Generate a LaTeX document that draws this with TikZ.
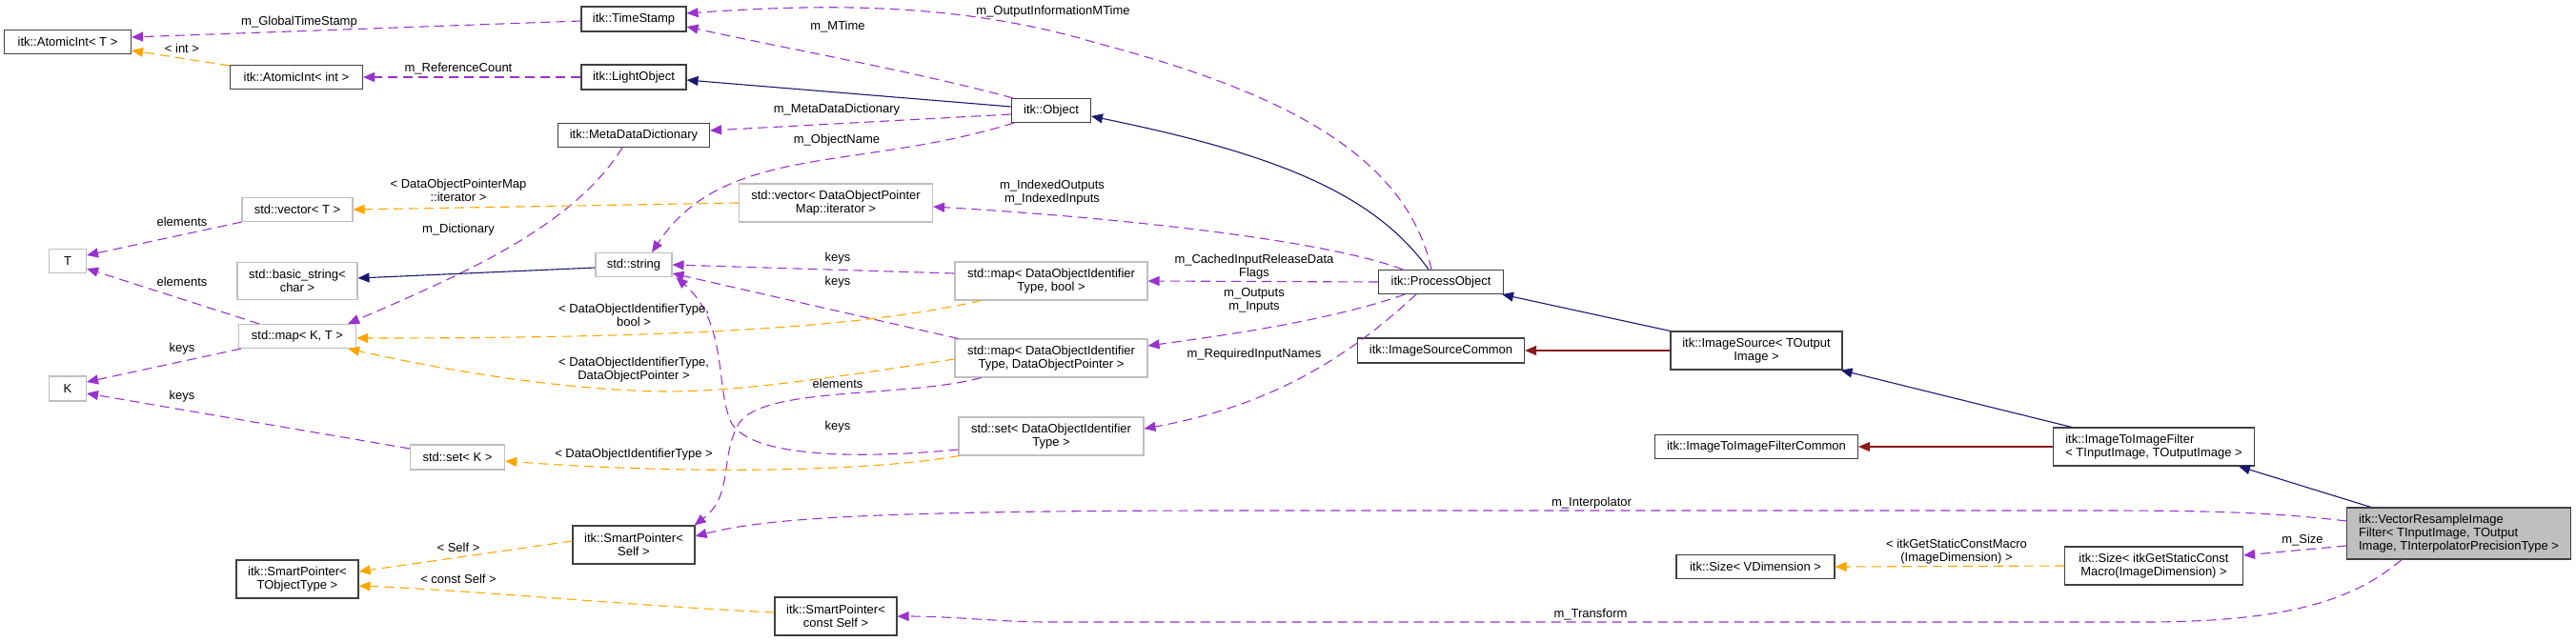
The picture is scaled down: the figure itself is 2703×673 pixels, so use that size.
\documentclass[tikz,border=0pt]{standalone}
\usepackage{fontspec}
\setmainfont{Liberation Sans}
\usetikzlibrary{arrows.meta,calc}
\definecolor{epurple}{HTML}{9A32CD}
\definecolor{eorange}{HTML}{FFA500}
\definecolor{enavy}{HTML}{191970}
\definecolor{ered}{HTML}{8B1A1A}
\definecolor{bgray}{HTML}{BFBFBF}
\definecolor{bdark}{HTML}{404040}
\begin{document}
\begin{tikzpicture}[x=1pt,y=-1pt,
  every node/.style={font=\fontsize{13}{14}\selectfont, inner sep=0pt},
  box/.style 2 args={draw=bdark, line width=1.1pt, rectangle, align=center, minimum width=#1pt, minimum height=#2pt},
  gbox/.style 2 args={draw=bgray, line width=1.1pt, rectangle, align=center, minimum width=#1pt, minimum height=#2pt},
  lbl/.style={align=center},
  tipA/.style={-{Triangle[length=12pt,width=10pt]}},
  usage/.style={tipA, draw=epurple, line width=1.1pt, dash pattern=on 10pt off 6pt},
  tmpl/.style={tipA, draw=eorange, line width=1.1pt, dash pattern=on 10pt off 6pt},
  inh/.style={tipA, draw=enavy, line width=1.1pt},
  priv/.style={tipA, draw=ered, line width=1.1pt}
]
\useasboundingbox (0,0) rectangle (2703,673);
% nodes
\node[box={133}{25}] (ATT) at (71,44) {itk::AtomicInt< T >};
\node[box={139}{25}] (ATI) at (311,81) {itk::AtomicInt< int >};
\node[box={110}{26}] (TS) at (665,20) {itk::TimeStamp};
\node[box={110}{26}] (LO) at (665,81) {itk::LightObject};
\node[box={159}{25}] (MDD) at (665,142) {itk::MetaDataDictionary};
\node[box={83}{25}] (OBJ) at (1103,116) {itk::Object};
\node[gbox={203}{40}] (VDOPM) at (877,213) {std::vector< DataObjectPointer\\Map::iterator >};
\node[gbox={80}{25}] (STR) at (665,278) {std::string};
\node[gbox={202}{40}] (MDB) at (1103,295) {std::map< DataObjectIdentifier\\Type, bool >};
\node[box={131}{25}] (PO) at (1512,296) {itk::ProcessObject};
\node[gbox={116}{25}] (VT) at (312,220) {std::vector< T >};
\node[gbox={39}{25}] (nT) at (71,274) {T};
\node[gbox={126}{39}] (BS) at (312,295) {std::basic\_string<\\char >};
\node[gbox={123}{25}] (MKT) at (312,353) {std::map< K, T >};
\node[gbox={39}{26}] (nK) at (71,408) {K};
\node[gbox={99}{26}] (SK) at (480,480) {std::set< K >};
\node[box={128}{40}] (SPT) at (312,608) {itk::SmartPointer<\\TObjectType >};
\node[gbox={202}{40}] (MDP) at (1103,376) {std::map< DataObjectIdentifier\\Type, DataObjectPointer >};
\node[gbox={194}{40}] (SDI) at (1103,458) {std::set< DataObjectIdentifier\\Type >};
\node[box={128}{40}] (SPS) at (665,572) {itk::SmartPointer<\\Self >};
\node[box={128}{40}] (SPC) at (877,647) {itk::SmartPointer<\\const Self >};
\node[box={175}{26}] (ISC) at (1512,368) {itk::ImageSourceCommon};
\node[box={180}{40}] (IS) at (1843,368) {itk::ImageSource< TOutput\\Image >};
\node[box={213}{25}] (ITIFC) at (1843,469) {itk::ImageToImageFilterCommon};
\node[box={211}{40}, align=left] (ITIF) at (2260,469) {itk::ImageToImageFilter\\< TInputImage, TOutputImage >};
\node[box={235}{54}, align=left, fill=bgray] (VR) at (2580,560) {itk::VectorResampleImage\\Filter< TInputImage, TOutput\\Image, TInterpolatorPrecisionType >};
\node[box={187}{40}] (SZ) at (2260,594) {itk::Size< itkGetStaticConst\\Macro(ImageDimension) >};
\node[box={166}{25}] (SZV) at (1842,595) {itk::Size< VDimension >};
% edges
\draw[usage] ($(TS.west)+(0,2)$) -- ($(ATT.east)+(0,-5)$);
\draw[tmpl] ($(ATI.north west)+(0,1)$) -- ($(ATT.east)+(0,9)$);
\draw[usage] (LO.west) -- (ATI.east);
\draw[usage] ($(OBJ.north west)+(2,0)$) .. controls (960,75) and (820,50) .. ($(TS.east)+(0,8)$);
\draw[usage] ($(PO.north)+(-10,0)$) .. controls (1475,160) and (1340,95) .. (1150,45) .. controls (1000,0) and (850,5) .. ($(TS.east)+(0,-6)$);
\draw[inh] ($(OBJ.west)+(0,-4)$) -- ($(LO.east)+(0,3)$);
\draw[usage] ($(OBJ.west)+(0,4)$) -- ($(MDD.east)+(0,-5)$);
\draw[usage] ($(OBJ.south west)+(3,0)$) .. controls (900,180) and (760,150) .. ($(STR.north)+(19,0)$);
\draw[inh] ($(PO.north)+(-13,0)$) .. controls (1440,200) and (1330,160) .. ($(OBJ.east)+(0,6)$);
\draw[usage] ($(MDD.south)+(-12,0)$) .. controls (600,240) and (480,290) .. ($(MKT.north east)+(-9,0)$);
\draw[tmpl] (VDOPM.west) -- (VT.east);
\draw[usage] (VT.south west) -- ($(nT.east)+(0,-6)$);
\draw[usage] ($(MKT.north west)+(22,0)$) -- ($(nT.east)+(0,8)$);
\draw[inh] ($(STR.west)+(0,3)$) -- ($(BS.east)+(0,-3)$);
\draw[usage] ($(PO.north west)+(26,0)$) .. controls (1400,255) and (1200,230) .. ($(VDOPM.east)+(0,4)$);
\draw[usage] ($(MDB.west)+(0,-8)$) -- (STR.east);
\draw[usage] ($(MDP.north west)+(4,0)$) -- ($(STR.east)+(0,9)$);
\draw[usage] ($(SDI.west)+(0,14)$) .. controls (900,482) and (790,480) .. (768,445) .. controls (750,410) and (765,340) .. ($(STR.south east)+(4,0)$);
\draw[usage] ($(MDP.south west)+(28,0)$) .. controls (950,418) and (800,405) .. (775,445) .. controls (755,480) and (770,520) .. ($(SPS.north east)+(-1,0)$);
\draw[usage] (PO.west) -- (MDB.east);
\draw[usage] ($(PO.south west)+(28,0)$) .. controls (1400,335) and (1300,350) .. ($(MDP.east)+(0,-13)$);
\draw[usage] ($(PO.south west)+(40,0)$) .. controls (1420,370) and (1340,425) .. ($(SDI.east)+(0,-8)$);
\draw[tmpl] ($(MDB.south west)+(28,0)$) .. controls (900,345) and (700,355) .. ($(MKT.east)+(0,2)$);
\draw[tmpl] ($(MDP.west)+(0,1)$) .. controls (850,400) and (750,415) .. (665,410) .. controls (560,405) and (450,385) .. ($(MKT.south east)+(-9,0)$);
\draw[tmpl] ($(SDI.south west)+(1,0)$) .. controls (900,497) and (700,497) .. ($(SK.east)+(0,4)$);
\draw[usage] ($(SK.west)+(0,-9)$) -- ($(nK.east)+(0,5)$);
\draw[usage] ($(MKT.south west)+(3,0)$) -- ($(nK.east)+(0,-7)$);
\draw[tmpl] ($(SPS.west)+(0,-4)$) -- ($(SPT.east)+(0,-8)$);
\draw[tmpl] ($(SPC.west)+(0,-4)$) .. controls (650,635) and (500,620) .. ($(SPT.east)+(0,7)$);
\draw[usage] ($(VR.west)+(0,-13)$) .. controls (2380,537) and (2300,536) .. (2200,536) -- (1300,536) .. controls (900,536) and (800,545) .. ($(SPS.east)+(0,-9)$);
\draw[usage] ($(VR.south)+(-60,0)$) .. controls (2470,630) and (2400,653) .. (2250,653) -- (1100,653) .. controls (1050,653) and (1000,647) .. (SPC.east);
\draw[usage] ($(VR.west)+(0,13)$) -- ($(SZ.east)+(0,-11)$);
\draw[tmpl] (SZ.west) -- (SZV.east);
\draw[inh] ($(VR.north west)+(26,0)$) -- ($(ITIF.south east)+(-17,0)$);
\draw[priv] (ITIF.west) -- (ITIFC.east);
\draw[inh] ($(ITIF.north west)+(20,0)$) -- ($(IS.south east)+(-2,0)$);
\draw[priv] (IS.west) -- (ISC.east);
\draw[inh] (IS.north west) -- ($(PO.south east)+(-2,0)$);
% labels
\node[lbl] (L1) at (314,23) {m\_GlobalTimeStamp};
\node[lbl] (L2) at (191,51) {< int >};
\node[lbl] (L3) at (481,72) {m\_ReferenceCount};
\node[lbl] (L4) at (879,28) {m\_MTime};
\node[lbl] (L5) at (1105,12) {m\_OutputInformationMTime};
\node[lbl] (L6) at (878,115) {m\_MetaDataDictionary};
\node[lbl] (L7) at (878,147) {m\_ObjectName};
\node[lbl] (L8) at (481,241) {m\_Dictionary};
\node[lbl] (L9) at (481,200) {< DataObjectPointerMap\\::iterator >};
\node[lbl] (L10) at (191,233) {elements};
\node[lbl] (L11) at (191,296) {elements};
\node[lbl] (L12) at (1104,202) {m\_IndexedOutputs\\m\_IndexedInputs};
\node[lbl] (L13) at (879,271) {keys};
\node[lbl] (L14) at (879,296) {keys};
\node[lbl] (L15) at (879,448) {keys};
\node[lbl] (L16) at (1316,280) {m\_CachedInputReleaseData\\Flags};
\node[lbl] (L17) at (1316,315) {m\_Outputs\\m\_Inputs};
\node[lbl] (L18) at (1316,372) {m\_RequiredInputNames};
\node[lbl] (L19) at (665,331) {< DataObjectIdentifierType,\\bool >};
\node[lbl] (L20) at (665,388) {< DataObjectIdentifierType,\\DataObjectPointer >};
\node[lbl] (L21) at (665,477) {< DataObjectIdentifierType >};
\node[lbl] (L22) at (191,416) {keys};
\node[lbl] (L23) at (191,366) {keys};
\node[lbl] (L24) at (481,575) {< Self >};
\node[lbl] (L25) at (481,608) {< const Self >};
\node[lbl] (L26) at (1670,528) {m\_Interpolator};
\node[lbl] (L27) at (1669,645) {m\_Transform};
\node[lbl] (L28) at (2416,567) {m\_Size};
\node[lbl] (L29) at (2053,579) {< itkGetStaticConstMacro\\(ImageDimension) >};
\node[lbl] (L30) at (879,403) {elements};
\end{tikzpicture}
\end{document}
